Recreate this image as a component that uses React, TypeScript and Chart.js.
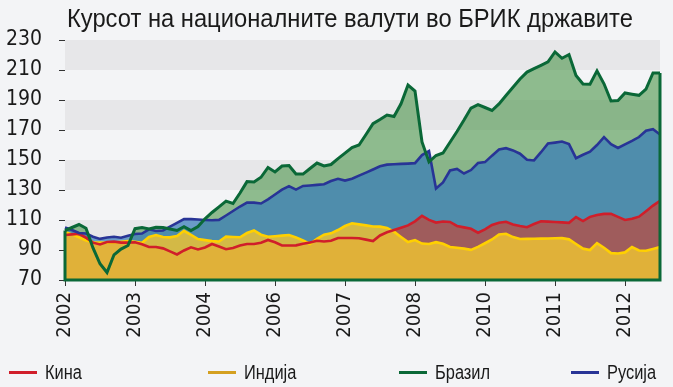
import React, { useEffect, useLayoutEffect, useRef } from 'react';
import { Chart, registerables } from 'chart.js';

Chart.register(...registerables);

const title = 'Курсот на националните валути во БРИК државите';
const yearTicks = ['2002', '2003', '2004', '2006', '2007', '2008', '2010', '2011', '2012'];
const tickEvery = 10;
const seriesNames = ['Кина', 'Индија', 'Бразил', 'Русија'];

const china = [
  100, 100.4, 100.9, 98.2, 94.9, 93.7, 95.3, 95.6, 94.9, 94.9,
  95.2, 93.8, 92, 92, 91.1, 89.1, 87, 89.7, 91.8, 90.4,
  91.7, 94, 92.3, 90.5, 91.3, 93, 94, 94, 94.8, 96.7,
  95.2, 93, 93, 93.1, 94.1, 95, 96.2, 95.7, 96.2, 98,
  98, 98, 97.8, 96.9, 96, 99.7, 101.8, 103.3, 104.9, 106.4,
  109.1, 112.8, 110.1, 108.3, 109, 108.7, 106, 105.1, 104.1, 101.5,
  103.7, 106.7, 108.2, 108.8, 107, 106, 105.2, 107.3, 109.2, 108.9,
  108.7, 108.4, 108.1, 112, 109.3, 112.1, 113.3, 114.1, 114.1, 112.1,
  110, 110.8, 112.2, 115.9, 119.6, 122.7,
];

const india = [
  102, 100.4, 98.5, 96.4, 95.2, 95, 94.8, 95, 95.4, 95.9,
  95.5, 94.8, 98.7, 100, 98.7, 98.4, 99.3, 102.8, 100.1, 97.3,
  96.6, 95.9, 95.7, 98.9, 98.7, 98.5, 101.3, 103, 100.2, 98.8,
  99.2, 99.6, 100, 98.4, 96.3, 94, 97.5, 100.2, 101.1, 103.3,
  106, 107.8, 107.1, 106.4, 105.7, 105.6, 104.7, 102.2, 98.7, 95.3,
  96.6, 94.3, 94, 95.2, 94.2, 92, 91.5, 90.9, 90.1, 92.1,
  94.5, 97, 100.3, 100.8, 98.6, 97.3, 97.4, 97.5, 97.6, 97.7,
  97.8, 97.9, 97.1, 94, 90.9, 90, 94.6, 91.5, 87.9, 87.7,
  88.4, 92, 89.7, 89.5, 90.7, 92,
];

const brazil = [
  103, 105, 107, 104.5, 91.4, 80.8, 75, 86.8, 90.6, 93,
  104.2, 105, 104, 105.2, 105, 104, 103, 105.6, 103, 105.7,
  110.8, 115, 118.8, 122.6, 121, 128, 135.6, 135.4, 138.5, 145,
  142, 146, 146.3, 140.7, 140.6, 144.3, 148, 146, 147, 150.9,
  154.6, 158.3, 160, 167, 174.2, 177, 180, 179, 187.5, 200,
  196, 162, 148.7, 153, 154.7, 161.8, 169, 176.6, 184.6, 186.9,
  185, 183, 187.4, 193, 198.5, 204, 208.6, 210.9, 213.1, 215.4,
  222, 217.8, 220.3, 206.4, 200.7, 200.5, 209.4, 200.8, 189.3, 189.6,
  194.7, 193.9, 193.1, 197.3, 208, 208,
];

const russia = [
  105, 103.3, 101.3, 101, 98.8, 97.4, 98.3, 98.8, 98.2, 99.5,
  100.7, 101, 103.8, 102.7, 103, 105.6, 108.1, 110.6, 110.6, 110.3,
  110, 109.8, 110.1, 113, 116, 119, 121.6, 121.6, 121, 123.8,
  127, 130.2, 132.6, 130.3, 132.7, 133, 133.4, 133.8, 136, 137.5,
  136.3, 137.5, 139.6, 141.6, 143.7, 145.8, 146.9, 147.2, 147.4, 147.6,
  147.9, 153.3, 156, 131, 135, 143, 144, 141, 143.3, 148,
  148.6, 152.9, 157, 157.9, 156.4, 154.2, 150.2, 149.7, 155.2, 161,
  161.6, 162.3, 160.6, 151.2, 153.5, 155.5, 160, 165.3, 160.6, 158,
  160.4, 162.7, 165.3, 169.5, 170.5, 167,
];

const categories = china.map((_, i) => String(i));

const LINE = {
  china: 'rgb(208,30,42)',
  india: 'rgb(255,208,0)',
  brazil: 'rgb(10,104,55)',
  russia: 'rgb(40,52,150)',
};
const FILL = {
  china: 'rgba(194,71,58,0.7)',
  india: 'rgba(235,193,52,0.85)',
  brazil: 'rgba(75,149,73,0.6)',
  russia: 'rgba(53,123,185,0.7)',
};
const LEGEND_COLORS = ['rgb(208,30,42)', 'rgb(212,160,32)', 'rgb(10,104,55)', 'rgb(40,52,150)'];
const LEGEND_LEFT = [9, 208, 399, 571];

const BG = '#f3f4f6';
const BAND = '#e7e7e9';
const TICK_FONT = "'DejaVu Sans Condensed', sans-serif";
const TEXT_FONT = "'Liberation Sans', Arial, sans-serif";
const TITLE_WIDTH = 566;
const TITLE_CENTER = 350;
const NARROW = 0.82;

const bandPlugin = {
  id: 'bands',
  beforeDraw(chart: any) {
    const { ctx, chartArea, scales } = chart;
    const y = scales.y;
    const ticks = y.ticks;
    ctx.save();
    ctx.fillStyle = BAND;
    for (let i = 1; i < ticks.length - 1; i += 2) {
      const top = y.getPixelForValue(ticks[i + 1].value);
      const bottom = y.getPixelForValue(ticks[i].value);
      ctx.fillRect(chartArea.left, top, chartArea.right - chartArea.left, bottom - top);
    }
    ctx.restore();
  },
};

const edgePlugin = {
  id: 'edges',
  afterDatasetsDraw(chart: any) {
    const meta = chart.getDatasetMeta(0);
    const pts = meta.data;
    if (!pts || !pts.length) return;
    const bottom = chart.scales.y.getPixelForValue(chart.scales.y.min);
    const first = pts[0];
    const last = pts[pts.length - 1];
    const ctx = chart.ctx;
    ctx.save();
    ctx.strokeStyle = LINE.brazil;
    ctx.lineWidth = 3;
    ctx.lineJoin = 'miter';
    ctx.beginPath();
    ctx.moveTo(first.x, first.y);
    ctx.lineTo(first.x, bottom);
    ctx.lineTo(last.x, bottom);
    ctx.lineTo(last.x, last.y);
    ctx.stroke();
    ctx.restore();
  },
};

function lineDs(label: string, data: number[], color: string, width: number) {
  return {
    label,
    data,
    borderColor: color,
    backgroundColor: color,
    borderWidth: width,
    pointRadius: 0,
    fill: false,
    tension: 0,
  };
}

function fillDs(label: string, data: number[], color: string) {
  return {
    label,
    data,
    borderColor: 'transparent',
    backgroundColor: color,
    borderWidth: 0,
    pointRadius: 0,
    fill: 'start',
    tension: 0,
  };
}

export default function App() {
  const ref = useRef<HTMLCanvasElement>(null);
  const titleRef = useRef<HTMLSpanElement>(null);

  useLayoutEffect(() => {
    const el = titleRef.current;
    if (!el) return;
    const w = el.offsetWidth;
    if (w > 0) {
      const s = TITLE_WIDTH / w;
      el.style.transform = `scaleX(${s})`;
      el.style.left = `${TITLE_CENTER - w / 2}px`;
    }
  }, []);

  useEffect(() => {
    if (!ref.current) return;
    const chart = new Chart(ref.current, {
      type: 'line',
      data: {
        labels: categories,
        datasets: [
          lineDs(seriesNames[2], brazil, LINE.brazil, 3),
          lineDs(seriesNames[3], russia, LINE.russia, 2.6),
          lineDs(seriesNames[0], china, LINE.china, 2.6),
          lineDs(seriesNames[1], india, LINE.india, 2.6),
          fillDs(seriesNames[1], india, FILL.india),
          fillDs(seriesNames[0], china, FILL.china),
          fillDs(seriesNames[3], russia, FILL.russia),
          fillDs(seriesNames[2], brazil, FILL.brazil),
        ] as any,
      },
      options: {
        animation: false,
        responsive: false,
        maintainAspectRatio: false,
        layout: { padding: { left: 0, right: 13, top: 40, bottom: 37 } },
        plugins: {
          legend: { display: false },
          title: { display: false },
          tooltip: { enabled: false },
          filler: { drawTime: 'beforeDatasetsDraw' },
        } as any,
        scales: {
          x: {
            type: 'category',
            offset: false,
            border: { display: false },
            grid: {
              drawOnChartArea: false,
              drawTicks: true,
              tickLength: 6,
              color: (c: any) => (c.index % tickEvery === 0 ? '#333' : 'rgba(0,0,0,0)'),
              tickColor: (c: any) => (c.index % tickEvery === 0 ? '#333' : 'rgba(0,0,0,0)'),
            },
            ticks: {
              autoSkip: false,
              maxRotation: 90,
              minRotation: 90,
              padding: 6,
              color: '#1a1a1a',
              font: { family: TICK_FONT, size: 20 },
              callback: (_v: any, i: number) => (i % tickEvery === 0 ? yearTicks[i / tickEvery] ?? '' : ''),
            },
            afterFit: (s: any) => {
              s.height = 70;
              s.paddingLeft = 0;
              s.paddingRight = 0;
            },
          },
          y: {
            min: 70,
            max: 230,
            border: { display: false },
            grid: {
              drawOnChartArea: false,
              drawTicks: true,
              tickLength: 6,
              color: '#333',
              tickColor: '#333',
            },
            ticks: {
              stepSize: 20,
              padding: 17,
              color: '#1a1a1a',
              font: { family: TICK_FONT, size: 21 },
            },
            afterFit: (s: any) => {
              s.width = 65;
              s.paddingTop = 0;
              s.paddingBottom = 0;
            },
          },
        },
      } as any,
      plugins: [bandPlugin, edgePlugin],
    });
    return () => chart.destroy();
  }, []);

  return (
    <div
      style={{
        position: 'fixed',
        left: 0,
        top: 0,
        width: 673,
        height: 387,
        background: BG,
        overflow: 'hidden',
        fontFamily: TEXT_FONT,
        color: '#1a1a1a',
      }}
    >
      <canvas ref={ref} width={673} height={387} style={{ position: 'absolute', left: 0, top: 0, width: 673, height: 387 }} />
      <span
        ref={titleRef}
        style={{
          position: 'absolute',
          left: 0,
          top: 3,
          fontSize: 26,
          lineHeight: '30px',
          whiteSpace: 'nowrap',
          transformOrigin: 'center center',
        }}
      >
        {title}
      </span>
      {seriesNames.map((name, i) => (
        <div
          key={name}
          style={{
            position: 'absolute',
            left: LEGEND_LEFT[i],
            top: 360,
            height: 24,
            display: 'flex',
            alignItems: 'center',
            fontSize: 20,
            whiteSpace: 'nowrap',
          }}
        >
          <span style={{ display: 'inline-block', width: 28, height: 3, background: LEGEND_COLORS[i], marginRight: 8 }} />
          <span style={{ display: 'inline-block', transform: `scaleX(${NARROW})`, transformOrigin: 'left center' }}>{name}</span>
        </div>
      ))}
    </div>
  );
}
